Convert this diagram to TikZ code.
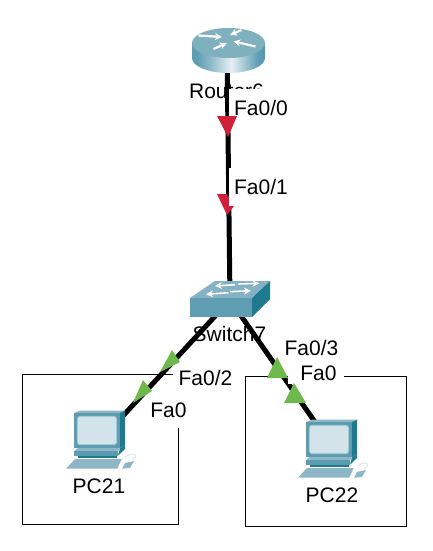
\documentclass[tikz,border=0pt]{standalone}
\usepackage{fontspec}
\setmainfont{Liberation Sans}
\usepackage{tikz}
\usetikzlibrary{arrows.meta}

\definecolor{routertop}{HTML}{7FB0BE}
\definecolor{swtop}{HTML}{84B2C4}
\definecolor{swfront}{HTML}{5F9DB3}
\definecolor{swside}{HTML}{1F7A90}
\definecolor{pcbody}{HTML}{5B9CB0}
\definecolor{pclight}{HTML}{8DB7C6}
\definecolor{pcscreen}{HTML}{D3E3EA}
\definecolor{linkred}{HTML}{D0213B}
\definecolor{linkgreen}{HTML}{6DB94B}
\pgfdeclarehorizontalshading{routerbody}{100bp}{
  color(0bp)=(swfront); color(28bp)=(swfront); color(38bp)=(white!30!swfront);
  color(52bp)=(white!85!swfront); color(70bp)=(swfront); color(100bp)=(swside)}

\begin{document}
\begin{tikzpicture}[
x=1pt, y=-1pt,
font=\fontsize{21}{25}\selectfont,
dev/.style={inner sep=0pt, minimum size=2pt},
devname/.style={inner sep=0pt, text=black},
portlabel/.style={fill=white, inner sep=0pt, minimum height=#1},
portlabel/.default=38pt,
link/.style={line width=5pt, black},
zone/.style={draw=black, line width=1pt},
whitearrow/.style={-{Stealth[length=7pt,width=7pt]}, white, line width=2.2pt},
routericon/.pic={
  \path[shading=routerbody] (-35,-7) -- (-35,8) arc[start angle=180, end angle=360, x radius=36.5pt, y radius=15pt] -- (38,-7) -- cycle;
  \fill[routertop] (1.5,-7) ellipse[x radius=36.5pt, y radius=15pt];
  \draw[whitearrow] (-28.5,-14.5) -- (-5,-13);
  \draw[whitearrow] (14.5,-20) -- (3.2,-15);
  \draw[whitearrow] (-13.5,-1) -- (-0.2,-7);
  \draw[whitearrow] (28.5,-3.5) -- (6.5,-8.7);
},
switchicon/.pic={
  \fill[swtop] (-40,-2) -- (-15,-19) -- (40,-19) -- (22,-2) -- cycle;
  \fill[swfront] (-40,-2) rectangle (22,17);
  \fill[swside] (22,-2) -- (40,-19) -- (40,-1) -- (22,17) -- cycle;
  \draw[whitearrow, line width=1.6pt] (5,-15.3) -- (-15,-14);
  \draw[whitearrow, line width=1.6pt] (8.3,-16) -- (29.3,-16.7);
  \draw[whitearrow, line width=1.6pt] (-1.7,-7.3) -- (-24,-5.7);
  \draw[whitearrow, line width=1.6pt] (0,-8.3) -- (21,-9.3);
},
pcicon/.pic={
  \fill[pclight] (0,0) -- (6,-2.3) -- (51,-2.3) -- (46,0) -- cycle;
  \fill[swside] (46,0) -- (51,-2.3) -- (51,32) -- (46,35) -- cycle;
  \fill[pcbody] (0,0) rectangle (46,35);
  \fill[pcscreen, draw=white!45!pcbody, line width=1pt, rounded corners=3pt] (3.3,3.3) rectangle (42.7,31.7);
  \fill[swside] (46,35) -- (51,32) -- (51,36) -- (44,42.7) -- cycle;
  \fill[pclight] (4,35) -- (46,35) -- (44,38) -- (0,38) -- cycle;
  \fill[pcbody] (0,38) rectangle (44,42.7);
  \fill[swside] (4,42.7) rectangle (43,45.3);
  \fill[pclight] (-8,55.7) -- (1,46) -- (47.7,46) -- (43.3,55.7) -- cycle;
  \fill[pclight] (48,55.7) -- (51,50) -- (60,48) -- (56,55) -- cycle;
  \draw[pcscreen, line width=0.8pt] (51,44) .. controls (60,38) and (66,42) .. (58,47);
}
]
\useasboundingbox (0,0) rectangle (432,551);

\node[dev] (rtr) at (227,50) {};
\node[dev] (sw) at (230,300) {};
\node[dev] (pc21) at (97,444) {};
\node[dev] (pc22) at (331,445) {};

\draw[zone] (22,374) rectangle (178,524);
\draw[zone] (245,376) rectangle (406,526);

\node[devname] (rtrname) at (226.5,91) {Router6};
\node[devname] (swname) at (229.5,334) {Switch7};

\draw[link] (rtr) -- (sw);
\draw[link] (sw) -- (pc21);
\draw[link] (sw) -- (pc22);

\pic at (rtr) {routericon};
\pic at (sw) {switchicon};
\pic at ([shift={(-23,-31)}]pc21.center) {pcicon};
\pic at ([shift={(-25,-23)}]pc22.center) {pcicon};

\node[devname] (pc21name) at (99,486) {PC21};
\node[devname] (pc22name) at (332,495) {PC22};

\fill[linkred] (217,194) -- (227,194) -- (234,206) -- (227,215) -- cycle;

\node[portlabel, minimum width=64pt] (rtrport) at (261,108) {Fa0/0};
\node[portlabel, minimum width=64pt] (swup) at (261,187) {Fa0/1};
\node[portlabel=30pt, minimum width=66pt] (swleft) at (205.5,378) {Fa0/2};
\node[portlabel=36pt, minimum width=40pt] (pc21port) at (168.5,410) {Fa0};
\node[portlabel=18pt, minimum width=56pt] (swright) at (311.5,348) {Fa0/3};
\node[portlabel=20pt, minimum width=56pt] (pc22port) at (316,373.5) {\hspace*{5pt}Fa0};

\fill[linkred] (217,116) -- (237,116) -- (228,137) -- cycle;
\fill[linkgreen] (172,350) -- (160,372) -- (180,362) -- cycle;
\fill[linkgreen] (143,380) -- (133,403) -- (152,391) -- cycle;
\fill[linkgreen] (277,357) -- (267,378) -- (288,378) -- cycle;
\fill[linkgreen] (294,383) -- (284,403) -- (306,403) -- cycle;
\end{tikzpicture}
\end{document}
